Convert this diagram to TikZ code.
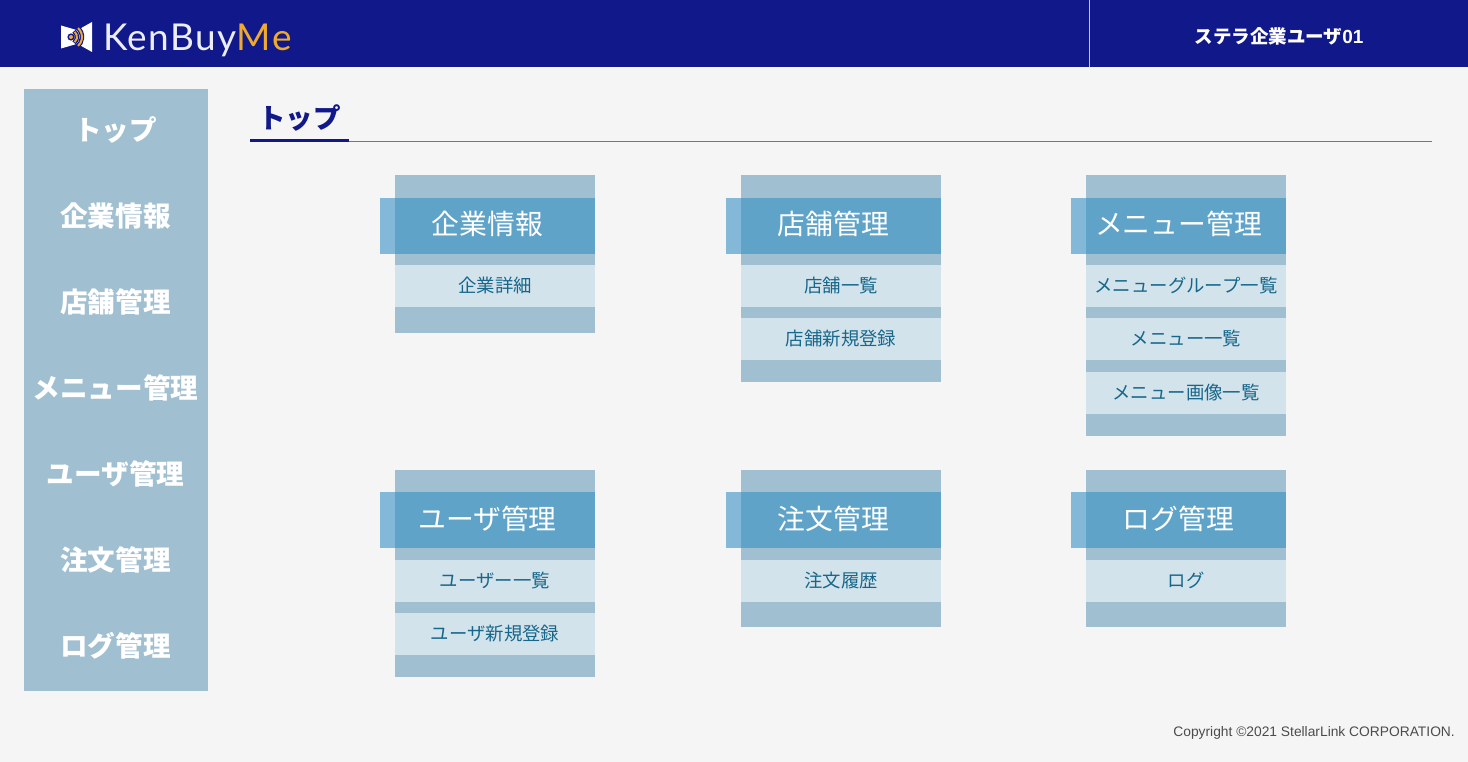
\documentclass[tikz,border=0pt]{standalone}
\usepackage{fontspec}
\setmainfont{Noto Sans CJK JP}
\newfontfamily\latn{Liberation Sans}
\newfontfamily\logofont{Lato}
\definecolor{navy}{HTML}{10188A}
\definecolor{pagebg}{HTML}{F5F5F5}
\definecolor{panel}{HTML}{A0BFD1}
\definecolor{band}{HTML}{5FA3C9}
\definecolor{bandl}{HTML}{83B8D8}
\definecolor{itembg}{HTML}{D3E3EC}
\definecolor{itemtx}{HTML}{17678A}
\definecolor{logoor}{HTML}{EFA92B}
\definecolor{rule}{HTML}{777777}
\newcommand{\fs}[1]{\fontsize{#1pt}{#1pt}\selectfont}
\tikzset{
  x=1pt,y=-1pt,
  menu/.style={text=white,font=\fs{27.6}\bfseries,inner sep=0pt,anchor=center},
  cardtitle/.style={text=white,font=\fs{27.8},inner sep=0pt,anchor=center},
  itemtext/.style={text=itemtx,font=\fs{18.4},inner sep=0pt,anchor=center}
}
% #1 name, #2 x, #3 y, #4 height, #5 band offset, #6 title
\newcommand{\card}[6]{%
  \fill[panel] (#2,#3) rectangle ++(200,#4);
  \fill[bandl] (#2-15,#3+#5) rectangle ++(15,56);
  \fill[band] (#2,#3+#5) rectangle ++(200,56);
  \node[cardtitle] (#1) at (#2+92.5,#3+49) {#6};
}
% #1 name, #2 x, #3 y, #4 text
\newcommand{\cardinfo}[4]{%
  \fill[itembg] (#2,#3) rectangle ++(200,42);
  \node[itemtext] (#1) at (#2+100,#3+20.5) {#4};
}
\begin{document}
\begin{tikzpicture}
\useasboundingbox (0,0) rectangle (1468,762);
\fill[pagebg] (0,0) rectangle (1468,762);
\fill[navy] (0,0) rectangle (1468,67);
\draw[white!75!navy,line width=1pt] (1089.5,0) -- (1089.5,67);
% logo
\fill[white] (61,25.5) -- (80,31) -- (80,43) -- (61,48.5) -- cycle;
\fill[white] (92,22) -- (92,52) -- (76,43) -- (76,31) -- cycle;
\draw[navy,line width=4.5pt] (70,37) ++(-55:7) arc (-55:55:7);
\draw[navy,line width=4.5pt] (70,37) ++(-55:12) arc (-55:55:12);
\fill[navy] (71,37) circle (3.6);
\fill[logoor] (71,37) circle (2);
\draw[logoor,line width=2pt] (70,37) ++(-48:7) arc (-48:48:7);
\draw[logoor,line width=2pt] (70,37) ++(-48:12) arc (-48:48:12);
\node[inner sep=0pt,anchor=base west,font=\logofont\fs{37}] (logo) at (103,51)
  {\addfontfeature{LetterSpace=4}\textcolor{white!92!navy}{KenBuy}\textcolor{logoor}{Me}};
\node[inner sep=0pt,text=white,font=\fs{18.5}\bfseries] (user) at (1279,36) {ステラ企業ユーザ{\latn\bfseries\fs{19}01}};
% sidebar
\fill[panel] (23.5,89) rectangle (208,691);
\node[menu] (m1) at (115.5,130) {トップ};
\node[menu] (m2) at (115.5,216) {企業情報};
\node[menu] (m3) at (115.5,302) {店舗管理};
\node[menu] (m4) at (115.5,388) {メニュー管理};
\node[menu] (m5) at (115.5,474) {ユーザ管理};
\node[menu] (m6) at (115.5,560) {注文管理};
\node[menu] (m7) at (115.5,646) {ログ管理};
% heading
\node[inner sep=0pt,text=navy,font=\fs{27.5}\bfseries] (head) at (299.5,118) {トップ};
\fill[rule] (349,141) rectangle (1432,142.5);
\fill[navy] (250,139) rectangle (349,142);
% cards
\card{c1}{395}{175}{158}{23}{企業情報}
\cardinfo{c1a}{395}{265}{企業詳細}
\card{c2}{741}{175}{207}{23}{店舗管理}
\cardinfo{c2a}{741}{265}{店舗一覧}
\cardinfo{c2b}{741}{318}{店舗新規登録}
\card{c3}{1086}{175}{261}{23}{メニュー管理}
\cardinfo{c3a}{1086}{265}{メニューグループ一覧}
\cardinfo{c3b}{1086}{318}{メニュー一覧}
\cardinfo{c3c}{1086}{372}{メニュー画像一覧}
\card{c4}{395}{470}{207}{22}{ユーザ管理}
\cardinfo{c4a}{395}{560}{ユーザー一覧}
\cardinfo{c4b}{395}{613}{ユーザ新規登録}
\card{c5}{741}{470}{157}{22}{注文管理}
\cardinfo{c5a}{741}{560}{注文履歴}
\card{c6}{1086}{470}{157}{22}{ログ管理}
\cardinfo{c6a}{1086}{560}{ログ}
\node[inner sep=0pt,anchor=east,text=black!70,font=\latn\fs{13.8}] (copy) at (1455,733) {Copyright ©2021 StellarLink CORPORATION.};
\end{tikzpicture}
\end{document}
